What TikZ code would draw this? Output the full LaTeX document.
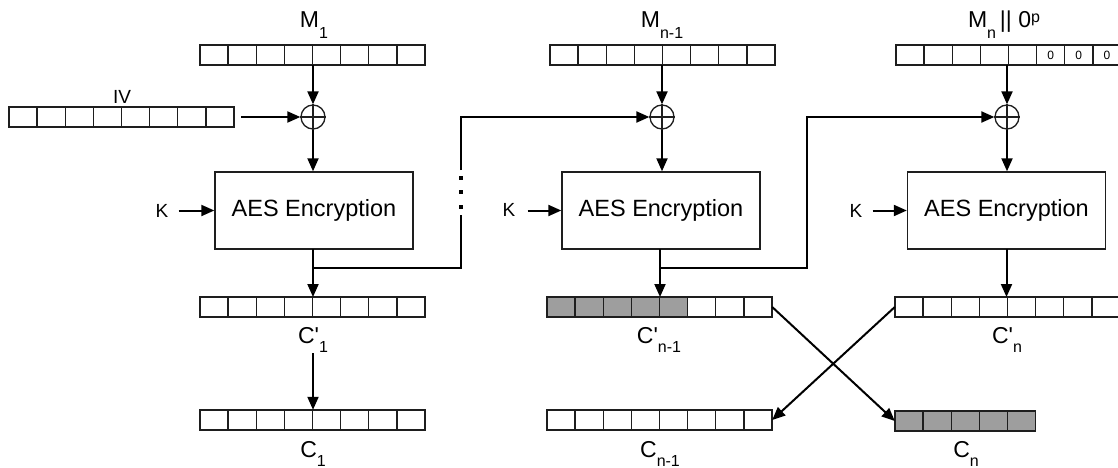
\documentclass[tikz,border=0pt]{standalone}
\usepackage{fontspec}
\setmainfont{Liberation Sans}
\usetikzlibrary{arrows.meta}
\definecolor{cellgray}{RGB}{158,158,158}
\definecolor{inkgray}{RGB}{30,30,30}
\newcommand\lsub[2]{\raisebox{-#1pt}{\fontsize{16}{16}\selectfont #2}}
\newcommand\lsup[2]{\raisebox{#1pt}{\fontsize{16}{16}\selectfont #2}}
\newcommand\cellrow[5]{% #1 name, #2 x left, #3 y top, #4 cells, #5 gray cells
  \node[rowbox, minimum width={#4*28.125pt}] (#1) at ({#2+#4*14.0625},{#3+10}) {};
  \ifnum#5>0
    \foreach \i in {1,...,#5}{\fill[cellgray] ({#2+(\i-1)*28.125},#3) rectangle ++(28.125,20);}
  \fi
  \foreach \i in {1,...,#4}{\draw[cellline] ({#2+(\i-1)*28.125},#3) rectangle ++(28.125,20);}
}
\begin{document}
\begin{tikzpicture}[x=1pt,y=-1pt,
  cellline/.style={draw=inkgray, line width=1.3pt},
  rowbox/.style={inner sep=0pt, minimum height=20pt, draw=none},
  aes/.style={draw=inkgray, line width=1.4pt, minimum width=198pt, minimum height=77pt, inner sep=0pt, font=\fontsize{23.5}{26}\selectfont},
  xorc/.style={circle, draw=inkgray, line width=1.3pt, minimum size=24pt, inner sep=0pt},
  arr/.style={line width=2pt, -{Triangle[length=13pt,width=11pt]}},
  link/.style={line width=2pt},
  lab/.style={font=\fontsize{23}{25}\selectfont, inner sep=0pt, anchor=base},
  small/.style={font=\fontsize{19}{21}\selectfont, inner sep=0pt},
  zero/.style={font=\fontsize{12}{13}\selectfont, inner sep=0pt},
]
\useasboundingbox[fill=white] (0,0) rectangle (1118,468);

% cell rows
\cellrow{m1}{200}{45}{8}{0}
\cellrow{mn1}{550}{45}{8}{0}
\cellrow{mn}{896}{45}{8}{0}
\cellrow{iv}{9}{107}{8}{0}
\cellrow{cp1}{200}{297}{8}{0}
\cellrow{cpn1}{547}{297}{8}{5}
\cellrow{cpn}{895}{297}{8}{0}
\cellrow{c1}{200}{410}{8}{0}
\cellrow{cn1}{547}{410}{8}{0}
\cellrow{cn}{895}{411}{5}{5}

\node[zero] (z1) at (1050.7,55) {0};
\node[zero] (z2) at (1078.8,55) {0};
\node[zero] (z3) at (1106.9,55) {0};

% labels
\node[lab] (lm1) at (314,28) {M\lsub{11}{1}};
\node[lab] (lmn1) at (662,28) {M\lsub{11}{n-1}};
\node[lab] (lmn) at (1004,28) {M\lsub{11}{n}\,|| 0\lsup{5}{p}};
\node[small, anchor=base] (liv) at (122,103) {IV};
\node[lab] (lcp1) at (313,343) {C\textquotesingle\lsub{9}{1}};
\node[lab] (lcpn1) at (659,343) {C\textquotesingle\lsub{9}{n-1}};
\node[lab] (lcpn) at (1007,343) {C\textquotesingle\lsub{9}{n}};
\node[lab] (lc1) at (313,457) {C\lsub{9}{1}};
\node[lab] (lcn1) at (660,457) {C\lsub{9}{n-1}};
\node[lab] (lcn) at (966,457) {C\lsub{9}{n}};

% xor
\node[xorc] (x1) at (313,117) {};
\node[xorc] (x2) at (662,117) {};
\node[xorc] (x3) at (1007,117) {};
\foreach \n in {x1,x2,x3}{
  \draw[cellline] (\n.north) -- (\n.south) (\n.west) -- (\n.east);
}

% AES boxes
\node[aes] (e1) at (314,210.5) {AES Encryption};
\node[aes] (e2) at (661,210.5) {AES Encryption};
\node[aes] (e3) at (1006.5,210.5) {AES Encryption};

% keys
\node[small] (k1) at (162,211) {K};
\node[small] (k2) at (509,210) {K};
\node[small] (k3) at (856,211) {K};
\draw[arr] ([xshift=10pt]k1.east |- e1.west) -- (e1.west);
\draw[arr] ([xshift=12pt]k2.east |- e2.west) -- (e2.west);
\draw[arr] ([xshift=10pt]k3.east |- e3.west) -- (e3.west);

% column 1
\draw[arr] ([xshift=7pt]iv.east) -- (x1.west);
\draw[arr] (x1 |- m1.south) -- (x1.north);
\draw[arr] (x1.south) -- (x1 |- e1.north);
\draw[arr] (313,249) -- (313,297);
\coordinate (b1) at (313,268);
\coordinate (t1) at (461,268);
\coordinate (g1) at (461,215);
\coordinate (h1) at (461,170);
\coordinate (u1) at (461,117);
\draw[link] (b1) -- (t1) -- (g1);
\fill (459,176) rectangle ++(4,4);
\fill (459,190) rectangle ++(4,4);
\fill (459,205) rectangle ++(4,4);
\draw[arr] (h1) -- (u1) -- (x2.west);
\coordinate (s1) at (313,353);
\draw[arr] (s1) -- (c1.north -| s1);

% column 2
\draw[arr] (x2 |- mn1.south) -- (x2.north);
\draw[arr] (x2.south) -- (x2 |- e2.north);
\draw[arr] (660,249) -- (660,297);
\coordinate (b2) at (660,268);
\coordinate (t2) at (807,268);
\coordinate (u2) at (807,117);
\draw[arr] (b2) -- (t2) -- (u2) -- (x3.west);

% column 3
\draw[arr] (x3 |- mn.south) -- (x3.north);
\draw[arr] (x3.south) -- (x3 |- e3.north);
\draw[arr] (1006.5,249) -- (1006.5,297);

% swap
\draw[arr] (cpn1.east) -- (cn.west);
\draw[arr] (cpn.west) -- (cn1.east);
\end{tikzpicture}
\end{document}
